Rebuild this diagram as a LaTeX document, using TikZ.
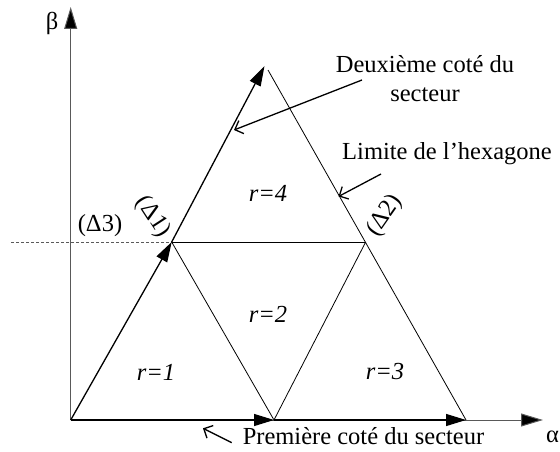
\documentclass[tikz,border=0pt]{standalone}
\usepackage{fontspec}
\setmainfont{Liberation Serif}
\usetikzlibrary{arrows.meta}
\begin{document}
\begin{tikzpicture}[x=1pt,y=-1pt,
  lbl/.style={inner sep=0pt,font=\fontsize{24.5}{29}\selectfont},
  axisline/.style={draw=black!65,line width=1pt,-{Triangle[length=22pt,width=13pt,fill=black]}},
  sideline/.style={draw=black,line width=1.3pt,-{Triangle[length=20pt,width=12pt]}},
  thinline/.style={draw=black,line width=0.8pt},
  note/.style={draw=black,line width=1.3pt,-{Straight Barb[length=7pt,width=14pt,line width=1.3pt]}}]
\useasboundingbox (0,0) rectangle (560,452);
% key points
\coordinate (O) at (70.7,420);
\coordinate (Xt) at (543,420);
\coordinate (Yt) at (70.7,7);
\coordinate (M) at (274,420);
\coordinate (E) at (466,420);
\coordinate (L) at (171.7,242);
\coordinate (R) at (365.7,242);
\coordinate (A) at (264.5,66);
\coordinate (Ar) at (268,70);
\coordinate (D0) at (11,242);
\coordinate (D1) at (190,242);
% axes
\draw[axisline] (O) -- (Xt);
\draw[axisline] (O) -- (Yt);
\draw[draw=black!65,line width=0.7pt,dashed,dash pattern=on 3pt off 2pt] (D0) -- (D1);
% triangle
\draw[thinline] (Ar) -- (E);
\draw[thinline] (L) -- (R);
\draw[thinline] (L) -- (M) -- (R);
\draw[sideline] (O) -- (M);
\draw[sideline] (M) -- (E);
\draw[sideline] (O) -- (L);
\draw[sideline] (L) -- (A);
% labels
\node[lbl] (beta) at (52,23) {β};
\node[lbl,anchor=west] (alpha) at (546,437) {α};
\node[lbl] (d3) at (100,226) {(Δ3)};
\node[lbl,rotate=-57] (d1) at (153,217) {(Δ1)};
\node[lbl,rotate=55] (d2) at (385,216) {(Δ2)};
\node[lbl] (r4) at (268,193) {\itshape r=4};
\node[lbl] (r2) at (268,314) {\itshape r=2};
\node[lbl] (r1) at (156,372) {\itshape r=1};
\node[lbl] (r3) at (385,372) {\itshape r=3};
\node[lbl,align=center] (deux) at (425,79) {Deuxième coté du\\secteur};
\node[lbl] (lim) at (447,154) {Limite de l’hexagone};
\node[lbl] (prem) at (363.5,436) {Première coté du secteur};
% annotation arrows
\coordinate (n1a) at (362,80);
\coordinate (n1b) at (234,130);
\coordinate (n2a) at (381,174);
\coordinate (n2b) at (338.5,196.5);
\coordinate (n3a) at (231.7,442.7);
\coordinate (n3b) at (203,428.3);
\draw[note] (n1a) -- (n1b);
\draw[note] (n2a) -- (n2b);
\draw[note] (n3a) -- (n3b);
\end{tikzpicture}
\end{document}
